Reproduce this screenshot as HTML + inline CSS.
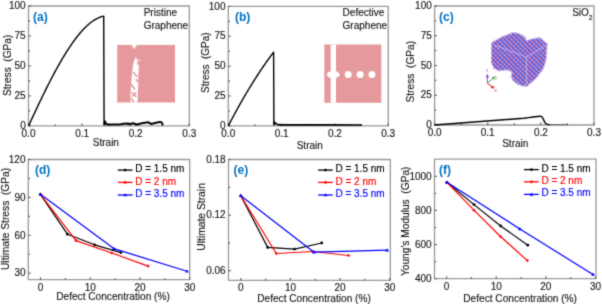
<!DOCTYPE html>
<html><head><meta charset="utf-8"><title>Figure</title>
<style>html,body{margin:0;padding:0;background:#fff;width:602px;height:304px;overflow:hidden}</style>
</head><body>
<svg width="602" height="304" viewBox="0 0 602 304" style="font-family:'Liberation Sans',sans-serif;display:block;" font-size="10" fill="#1a1a1a">
<filter id="soft3" x="0" y="0" width="602" height="304" filterUnits="userSpaceOnUse" color-interpolation-filters="sRGB"><feConvolveMatrix order="3" kernelMatrix="0.0225 0.1050 0.0225 0.1050 0.4900 0.1050 0.0225 0.1050 0.0225" divisor="1" edgeMode="duplicate"/></filter>
<g filter="url(#soft3)">
<rect width="602" height="304" fill="#fff"/>
<path d="M28.5,6H189.3V125.9H28.5Z" fill="none" stroke="#999999" stroke-width="1.3"/>
<line x1="28.5" y1="125.9" x2="30.9" y2="125.9" stroke="#5a5a5a" stroke-width="1.1"/>
<line x1="28.5" y1="95.93" x2="30.9" y2="95.93" stroke="#5a5a5a" stroke-width="1.1"/>
<line x1="28.5" y1="65.95" x2="30.9" y2="65.95" stroke="#5a5a5a" stroke-width="1.1"/>
<line x1="28.5" y1="35.97" x2="30.9" y2="35.97" stroke="#5a5a5a" stroke-width="1.1"/>
<line x1="28.5" y1="6" x2="30.9" y2="6" stroke="#5a5a5a" stroke-width="1.1"/>
<line x1="28.5" y1="110.91" x2="30.2" y2="110.91" stroke="#5a5a5a" stroke-width="1.1"/>
<line x1="28.5" y1="80.94" x2="30.2" y2="80.94" stroke="#5a5a5a" stroke-width="1.1"/>
<line x1="28.5" y1="50.96" x2="30.2" y2="50.96" stroke="#5a5a5a" stroke-width="1.1"/>
<line x1="28.5" y1="20.99" x2="30.2" y2="20.99" stroke="#5a5a5a" stroke-width="1.1"/>
<text stroke="#1a1a1a" stroke-width="0.15" x="25.7" y="129.1" text-anchor="end">0</text>
<text stroke="#1a1a1a" stroke-width="0.15" x="25.7" y="99.13" text-anchor="end">25</text>
<text stroke="#1a1a1a" stroke-width="0.15" x="25.7" y="69.15" text-anchor="end">50</text>
<text stroke="#1a1a1a" stroke-width="0.15" x="25.7" y="39.17" text-anchor="end">75</text>
<text stroke="#1a1a1a" stroke-width="0.15" x="25.7" y="9.2" text-anchor="end">100</text>
<line x1="28.5" y1="125.9" x2="28.5" y2="123.5" stroke="#5a5a5a" stroke-width="1.1"/>
<line x1="82.1" y1="125.9" x2="82.1" y2="123.5" stroke="#5a5a5a" stroke-width="1.1"/>
<line x1="135.7" y1="125.9" x2="135.7" y2="123.5" stroke="#5a5a5a" stroke-width="1.1"/>
<line x1="189.3" y1="125.9" x2="189.3" y2="123.5" stroke="#5a5a5a" stroke-width="1.1"/>
<line x1="55.3" y1="125.9" x2="55.3" y2="124.2" stroke="#5a5a5a" stroke-width="1.1"/>
<line x1="108.9" y1="125.9" x2="108.9" y2="124.2" stroke="#5a5a5a" stroke-width="1.1"/>
<line x1="162.5" y1="125.9" x2="162.5" y2="124.2" stroke="#5a5a5a" stroke-width="1.1"/>
<text stroke="#1a1a1a" stroke-width="0.15" x="28.5" y="136.9" text-anchor="middle">0.0</text>
<text stroke="#1a1a1a" stroke-width="0.15" x="82.1" y="136.9" text-anchor="middle">0.1</text>
<text stroke="#1a1a1a" stroke-width="0.15" x="135.7" y="136.9" text-anchor="middle">0.2</text>
<text stroke="#1a1a1a" stroke-width="0.15" x="189.3" y="136.9" text-anchor="middle">0.3</text>
<path d="M228.3,6.4H388.2V125.9H228.3Z" fill="none" stroke="#999999" stroke-width="1.3"/>
<line x1="228.3" y1="125.9" x2="230.7" y2="125.9" stroke="#5a5a5a" stroke-width="1.1"/>
<line x1="228.3" y1="96.03" x2="230.7" y2="96.03" stroke="#5a5a5a" stroke-width="1.1"/>
<line x1="228.3" y1="66.15" x2="230.7" y2="66.15" stroke="#5a5a5a" stroke-width="1.1"/>
<line x1="228.3" y1="36.28" x2="230.7" y2="36.28" stroke="#5a5a5a" stroke-width="1.1"/>
<line x1="228.3" y1="6.4" x2="230.7" y2="6.4" stroke="#5a5a5a" stroke-width="1.1"/>
<line x1="228.3" y1="110.96" x2="230" y2="110.96" stroke="#5a5a5a" stroke-width="1.1"/>
<line x1="228.3" y1="81.09" x2="230" y2="81.09" stroke="#5a5a5a" stroke-width="1.1"/>
<line x1="228.3" y1="51.21" x2="230" y2="51.21" stroke="#5a5a5a" stroke-width="1.1"/>
<line x1="228.3" y1="21.34" x2="230" y2="21.34" stroke="#5a5a5a" stroke-width="1.1"/>
<text stroke="#1a1a1a" stroke-width="0.15" x="225.5" y="129.1" text-anchor="end">0</text>
<text stroke="#1a1a1a" stroke-width="0.15" x="225.5" y="99.23" text-anchor="end">25</text>
<text stroke="#1a1a1a" stroke-width="0.15" x="225.5" y="69.35" text-anchor="end">50</text>
<text stroke="#1a1a1a" stroke-width="0.15" x="225.5" y="39.48" text-anchor="end">75</text>
<text stroke="#1a1a1a" stroke-width="0.15" x="225.5" y="9.6" text-anchor="end">100</text>
<line x1="228.3" y1="125.9" x2="228.3" y2="123.5" stroke="#5a5a5a" stroke-width="1.1"/>
<line x1="281.6" y1="125.9" x2="281.6" y2="123.5" stroke="#5a5a5a" stroke-width="1.1"/>
<line x1="334.9" y1="125.9" x2="334.9" y2="123.5" stroke="#5a5a5a" stroke-width="1.1"/>
<line x1="388.2" y1="125.9" x2="388.2" y2="123.5" stroke="#5a5a5a" stroke-width="1.1"/>
<line x1="254.95" y1="125.9" x2="254.95" y2="124.2" stroke="#5a5a5a" stroke-width="1.1"/>
<line x1="308.25" y1="125.9" x2="308.25" y2="124.2" stroke="#5a5a5a" stroke-width="1.1"/>
<line x1="361.55" y1="125.9" x2="361.55" y2="124.2" stroke="#5a5a5a" stroke-width="1.1"/>
<text stroke="#1a1a1a" stroke-width="0.15" x="228.3" y="136.9" text-anchor="middle">0.0</text>
<text stroke="#1a1a1a" stroke-width="0.15" x="281.6" y="136.9" text-anchor="middle">0.1</text>
<text stroke="#1a1a1a" stroke-width="0.15" x="334.9" y="136.9" text-anchor="middle">0.2</text>
<text stroke="#1a1a1a" stroke-width="0.15" x="388.2" y="136.9" text-anchor="middle">0.3</text>
<path d="M434.6,6H594V125H434.6Z" fill="none" stroke="#999999" stroke-width="1.3"/>
<line x1="434.6" y1="125" x2="437" y2="125" stroke="#5a5a5a" stroke-width="1.1"/>
<line x1="434.6" y1="95.25" x2="437" y2="95.25" stroke="#5a5a5a" stroke-width="1.1"/>
<line x1="434.6" y1="65.5" x2="437" y2="65.5" stroke="#5a5a5a" stroke-width="1.1"/>
<line x1="434.6" y1="35.75" x2="437" y2="35.75" stroke="#5a5a5a" stroke-width="1.1"/>
<line x1="434.6" y1="6" x2="437" y2="6" stroke="#5a5a5a" stroke-width="1.1"/>
<line x1="434.6" y1="110.12" x2="436.3" y2="110.12" stroke="#5a5a5a" stroke-width="1.1"/>
<line x1="434.6" y1="80.38" x2="436.3" y2="80.38" stroke="#5a5a5a" stroke-width="1.1"/>
<line x1="434.6" y1="50.62" x2="436.3" y2="50.62" stroke="#5a5a5a" stroke-width="1.1"/>
<line x1="434.6" y1="20.88" x2="436.3" y2="20.88" stroke="#5a5a5a" stroke-width="1.1"/>
<text stroke="#1a1a1a" stroke-width="0.15" x="431.8" y="128.2" text-anchor="end">0</text>
<text stroke="#1a1a1a" stroke-width="0.15" x="431.8" y="98.45" text-anchor="end">25</text>
<text stroke="#1a1a1a" stroke-width="0.15" x="431.8" y="68.7" text-anchor="end">50</text>
<text stroke="#1a1a1a" stroke-width="0.15" x="431.8" y="38.95" text-anchor="end">75</text>
<text stroke="#1a1a1a" stroke-width="0.15" x="431.8" y="9.2" text-anchor="end">100</text>
<line x1="434.6" y1="125" x2="434.6" y2="122.6" stroke="#5a5a5a" stroke-width="1.1"/>
<line x1="487.73" y1="125" x2="487.73" y2="122.6" stroke="#5a5a5a" stroke-width="1.1"/>
<line x1="540.87" y1="125" x2="540.87" y2="122.6" stroke="#5a5a5a" stroke-width="1.1"/>
<line x1="594" y1="125" x2="594" y2="122.6" stroke="#5a5a5a" stroke-width="1.1"/>
<line x1="461.17" y1="125" x2="461.17" y2="123.3" stroke="#5a5a5a" stroke-width="1.1"/>
<line x1="514.3" y1="125" x2="514.3" y2="123.3" stroke="#5a5a5a" stroke-width="1.1"/>
<line x1="567.43" y1="125" x2="567.43" y2="123.3" stroke="#5a5a5a" stroke-width="1.1"/>
<text stroke="#1a1a1a" stroke-width="0.15" x="434.6" y="136" text-anchor="middle">0.0</text>
<text stroke="#1a1a1a" stroke-width="0.15" x="487.73" y="136" text-anchor="middle">0.1</text>
<text stroke="#1a1a1a" stroke-width="0.15" x="540.87" y="136" text-anchor="middle">0.2</text>
<text stroke="#1a1a1a" stroke-width="0.15" x="594" y="136" text-anchor="middle">0.3</text>
<text stroke="#1a1a1a" stroke-width="0.15" transform="translate(10.8,65.3) rotate(-90)" text-anchor="middle" font-size="10.15" xml:space="preserve">Stress  (GPa)</text>
<text stroke="#1a1a1a" stroke-width="0.15" transform="translate(208.8,62.6) rotate(-90)" text-anchor="middle" font-size="10" xml:space="preserve">Stress  (GPa)</text>
<text stroke="#1a1a1a" stroke-width="0.15" transform="translate(414.3,71.7) rotate(-90)" text-anchor="middle" font-size="10.2" xml:space="preserve">Stress  (GPa)</text>
<text stroke="#1a1a1a" stroke-width="0.15" x="92.8" y="145.9" font-size="10">Strain</text>
<text stroke="#1a1a1a" stroke-width="0.15" x="296.7" y="148.6" font-size="10">Strain</text>
<text stroke="#1a1a1a" stroke-width="0.15" x="502.2" y="147.2" font-size="10">Strain</text>
<text x="33.1" y="21" font-weight="bold" font-size="12" fill="#0070c0">(a)</text>
<text x="235" y="21" font-weight="bold" font-size="12" fill="#0070c0">(b)</text>
<text x="439" y="21" font-weight="bold" font-size="12" fill="#0070c0">(c)</text>
<text stroke="#1a1a1a" stroke-width="0.15" x="143.7" y="16.2">Pristine</text>
<text stroke="#1a1a1a" stroke-width="0.15" x="143.7" y="29.4">Graphene</text>
<text stroke="#1a1a1a" stroke-width="0.15" x="342.6" y="16.2">Defective</text>
<text stroke="#1a1a1a" stroke-width="0.15" x="342.6" y="28.6">Graphene</text>
<text stroke="#1a1a1a" stroke-width="0.15" x="572.2" y="16">SiO<tspan font-size="6.8" dy="3.6">2</tspan></text>
<rect x="117.2" y="44.9" width="57.8" height="57.6" fill="#e6999d"/>
<polygon points="131.2,44.9 137,44.9 135.4,47 134.4,49.6 133.2,47.2" fill="#fff"/>
<polygon points="135.8,57 137.2,59.5 138.4,63 138.9,67 138.6,72 138.2,77 138.4,82 138.1,87 137.9,92 137.8,97 137.4,102.5 130.6,102.5 130.4,97 130.7,92 130.8,87 131.2,82 131.7,77 132.3,72 132.8,67 133.8,62 134.8,59" fill="#fff"/>
<g stroke="#e6999d" stroke-width="1.5" stroke-linecap="round" fill="none">
<polyline points="133.6,72.5 136.8,76.5"/>
<polyline points="136.2,79.5 138.2,82"/>
<polyline points="131.4,84.5 134.6,89"/>
<polyline points="132,92.5 136,96.5"/>
<polyline points="136,92.5 132.4,96.2"/>
<polyline points="131,98.6 133.6,101.6"/>
<polyline points="137.6,64 138.6,61.5"/>
</g>
<circle cx="139.6" cy="60.2" r="0.8" fill="#fff"/>
<rect x="324.3" y="44.5" width="57" height="58.3" fill="#e6999d"/>
<rect x="330.7" y="44.5" width="5.3" height="58.3" fill="#fff"/>
<ellipse cx="333.3" cy="74.6" rx="6.4" ry="3.7" fill="#fff"/>
<circle cx="348.2" cy="74.6" r="3.5" fill="#fff"/>
<circle cx="360.1" cy="74.6" r="3.5" fill="#fff"/>
<circle cx="371.9" cy="74.6" r="3.5" fill="#fff"/>
<polyline points="28.5,125.9 29.5,123.9 30.5,121.73 31.5,119.56 32.5,117.4 33.5,115.25 34.5,113.11 35.5,110.97 36.5,108.84 37.5,106.72 38.5,104.61 39.5,102.52 40.5,100.43 41.5,98.35 42.5,96.29 43.5,94.24 44.5,92.2 45.5,90.18 46.5,88.17 47.5,86.18 48.5,84.2 49.5,82.24 50.5,80.29 51.5,78.36 52.5,76.45 53.5,74.56 54.5,72.69 55.5,70.84 56.5,69.01 57.5,67.19 58.5,65.4 59.5,63.63 60.5,61.89 61.5,60.16 62.5,58.47 63.5,56.79 64.5,55.14 65.5,53.51 66.5,51.91 67.5,50.34 68.5,48.8 69.5,47.28 70.5,45.79 71.5,44.33 72.5,42.89 73.5,41.49 74.5,40.12 75.5,38.78 76.5,37.47 77.5,36.19 78.5,34.95 79.5,33.74 80.5,32.56 81.5,31.42 82.5,30.31 83.5,29.23 84.5,28.2 85.5,27.2 86.5,26.24 87.5,25.31 88.5,24.43 89.5,23.58 90.5,22.77 91.5,22 92.5,21.28 93.5,20.59 94.5,19.95 95.5,19.35 96.5,18.79 97.5,18.27 98.5,17.8 99.5,17.38 100.5,17 101.5,16.66 102.5,16.37 103.5,16.13 103.7,16.09 104.1,124.5" fill="none" stroke="#000" stroke-width="1.4" stroke-linejoin="round"/>
<polyline points="104.3,125.4 104.9,121.2 105.6,123.2 107.3,124.5 112,124.6 118,124.5 121,124.3 123.3,123.8 128.6,123.6 129.7,124.6 131,123.8 132.9,123.3 137,124.5 142,123.3 148,122.2 151,123.9 156,122.8 160,121.9 161.6,122.4 162.3,123.8 162.6,125.3" fill="none" stroke="#000" stroke-width="2.0" stroke-linejoin="round"/>
<polyline points="228.3,125.9 229.3,123.89 230.3,121.98 231.3,120.09 232.3,118.21 233.3,116.34 234.3,114.48 235.3,112.64 236.3,110.81 237.3,108.99 238.3,107.19 239.3,105.4 240.3,103.63 241.3,101.86 242.3,100.12 243.3,98.38 244.3,96.66 245.3,94.95 246.3,93.26 247.3,91.58 248.3,89.91 249.3,88.25 250.3,86.61 251.3,84.98 252.3,83.37 253.3,81.77 254.3,80.18 255.3,78.61 256.3,77.05 257.3,75.5 258.3,73.96 259.3,72.44 260.3,70.94 261.3,69.44 262.3,67.96 263.3,66.5 264.3,65.04 265.3,63.6 266.3,62.18 267.3,60.76 268.3,59.36 269.3,57.98 270.3,56.6 271.3,55.24 272.3,53.9 273.3,52.57 273.6,52.17 273.9,124.5" fill="none" stroke="#000" stroke-width="1.4" stroke-linejoin="round"/>
<polyline points="274,125.3 274.4,122.2 275.5,123.2 277,124.4 280,124.8 300,124.9 330,124.9 362,125" fill="none" stroke="#000" stroke-width="1.7" stroke-linejoin="round"/>
<polyline points="434.6,125 523.7,118.25 528.6,117.6 533,117 537.3,116.5 540.3,116.2 541.6,116.6 542.6,117.8 543.7,120.1 545,122.7 546.2,123.8 547.5,124.4 550.2,124.6" fill="none" stroke="#000" stroke-width="1.4" stroke-linejoin="round"/>
<line x1="550" y1="124.6" x2="567.5" y2="124.6" stroke="#666" stroke-width="1"/>
<defs><pattern id="sio" width="3.2" height="3.2" patternUnits="userSpaceOnUse" patternTransform="rotate(45)"><rect width="3.2" height="3.2" fill="#aca4ec"/><rect x="0" y="0" width="3.2" height="1.3" fill="#5050e0"/><rect x="0.1" y="1.5" width="1.5" height="1.5" fill="#d6567c"/></pattern><filter id="soft" x="-10%" y="-10%" width="120%" height="120%"><feGaussianBlur stdDeviation="0.35"/></filter></defs>
<polygon points="492,43 502,37.5 513.4,33 520,34.5 524,37 526.6,41.5 531.8,39.5 539.7,38.3 546.5,44 545.5,59.5 542.8,68.5 535,78.5 526.4,86 520,84.8 514.2,81 511.8,76.6 512.8,71.5 507,69.2 499,70.3 494.2,67.8 492,62" fill="url(#sio)" stroke="url(#sio)" stroke-width="2.2" stroke-dasharray="1.2 1" filter="url(#soft)"/>
<polyline points="493.7,45 526.6,57 546,45.5" fill="none" stroke="#d4cef2" stroke-width="0.9" opacity="0.75"/>
<line x1="526.6" y1="57" x2="526.6" y2="85" stroke="#d4cef2" stroke-width="0.9" opacity="0.7"/>
<g stroke-width="1" fill="none">
<line x1="487.4" y1="83.2" x2="487.4" y2="75.5" stroke="#8a50c8"/>
<line x1="487.4" y1="83.2" x2="493.5" y2="78" stroke="#50a850"/>
<line x1="487.4" y1="83.2" x2="492.2" y2="86.8" stroke="#e82020"/>
</g>
<polygon points="485.8,77.5 489,77.5 487.4,73.6" fill="#8a50c8"/>
<polygon points="491.5,77.4 494.2,79.8 495.2,76.3" fill="#50a850"/>
<polygon points="490.4,88 493,85.6 494.6,88.6" fill="#e82020"/>
<text x="486" y="71.5" font-size="4.5" fill="#9a70d0">z</text>
<text x="495" y="79" font-size="4.5" fill="#60b060">y</text>
<text x="494.5" y="92.2" font-size="4.5" fill="#e83030">x</text>
<path d="M28.3,159.5H189.7V279.7H28.3Z" fill="none" stroke="#999999" stroke-width="1.3"/>
<line x1="40.5" y1="279.7" x2="40.5" y2="277.3" stroke="#5a5a5a" stroke-width="1.1"/>
<line x1="90.23" y1="279.7" x2="90.23" y2="277.3" stroke="#5a5a5a" stroke-width="1.1"/>
<line x1="139.97" y1="279.7" x2="139.97" y2="277.3" stroke="#5a5a5a" stroke-width="1.1"/>
<line x1="189.7" y1="279.7" x2="189.7" y2="277.3" stroke="#5a5a5a" stroke-width="1.1"/>
<line x1="65.37" y1="279.7" x2="65.37" y2="278" stroke="#5a5a5a" stroke-width="1.1"/>
<line x1="115.1" y1="279.7" x2="115.1" y2="278" stroke="#5a5a5a" stroke-width="1.1"/>
<line x1="164.83" y1="279.7" x2="164.83" y2="278" stroke="#5a5a5a" stroke-width="1.1"/>
<text stroke="#1a1a1a" stroke-width="0.15" x="40.5" y="290.6" text-anchor="middle">0</text>
<text stroke="#1a1a1a" stroke-width="0.15" x="90.23" y="290.6" text-anchor="middle">10</text>
<text stroke="#1a1a1a" stroke-width="0.15" x="139.97" y="290.6" text-anchor="middle">20</text>
<text stroke="#1a1a1a" stroke-width="0.15" x="189.7" y="290.6" text-anchor="middle">30</text>
<path d="M228.5,159.5H390.3V280.4H228.5Z" fill="none" stroke="#999999" stroke-width="1.3"/>
<line x1="240.8" y1="280.4" x2="240.8" y2="278" stroke="#5a5a5a" stroke-width="1.1"/>
<line x1="290.47" y1="280.4" x2="290.47" y2="278" stroke="#5a5a5a" stroke-width="1.1"/>
<line x1="340.13" y1="280.4" x2="340.13" y2="278" stroke="#5a5a5a" stroke-width="1.1"/>
<line x1="389.8" y1="280.4" x2="389.8" y2="278" stroke="#5a5a5a" stroke-width="1.1"/>
<line x1="265.63" y1="280.4" x2="265.63" y2="278.7" stroke="#5a5a5a" stroke-width="1.1"/>
<line x1="315.3" y1="280.4" x2="315.3" y2="278.7" stroke="#5a5a5a" stroke-width="1.1"/>
<line x1="364.97" y1="280.4" x2="364.97" y2="278.7" stroke="#5a5a5a" stroke-width="1.1"/>
<text stroke="#1a1a1a" stroke-width="0.15" x="240.8" y="291.3" text-anchor="middle">0</text>
<text stroke="#1a1a1a" stroke-width="0.15" x="290.47" y="291.3" text-anchor="middle">10</text>
<text stroke="#1a1a1a" stroke-width="0.15" x="340.13" y="291.3" text-anchor="middle">20</text>
<text stroke="#1a1a1a" stroke-width="0.15" x="389.8" y="291.3" text-anchor="middle">30</text>
<path d="M434.5,159.1H596V278.7H434.5Z" fill="none" stroke="#999999" stroke-width="1.3"/>
<line x1="446.6" y1="278.7" x2="446.6" y2="276.3" stroke="#5a5a5a" stroke-width="1.1"/>
<line x1="496.23" y1="278.7" x2="496.23" y2="276.3" stroke="#5a5a5a" stroke-width="1.1"/>
<line x1="545.87" y1="278.7" x2="545.87" y2="276.3" stroke="#5a5a5a" stroke-width="1.1"/>
<line x1="595.5" y1="278.7" x2="595.5" y2="276.3" stroke="#5a5a5a" stroke-width="1.1"/>
<line x1="471.42" y1="278.7" x2="471.42" y2="277" stroke="#5a5a5a" stroke-width="1.1"/>
<line x1="521.05" y1="278.7" x2="521.05" y2="277" stroke="#5a5a5a" stroke-width="1.1"/>
<line x1="570.68" y1="278.7" x2="570.68" y2="277" stroke="#5a5a5a" stroke-width="1.1"/>
<text stroke="#1a1a1a" stroke-width="0.15" x="446.6" y="289.6" text-anchor="middle">0</text>
<text stroke="#1a1a1a" stroke-width="0.15" x="496.23" y="289.6" text-anchor="middle">10</text>
<text stroke="#1a1a1a" stroke-width="0.15" x="545.87" y="289.6" text-anchor="middle">20</text>
<text stroke="#1a1a1a" stroke-width="0.15" x="595.5" y="289.6" text-anchor="middle">30</text>
<line x1="28.3" y1="273.2" x2="30.7" y2="273.2" stroke="#5a5a5a" stroke-width="1.1"/>
<line x1="28.3" y1="235.3" x2="30.7" y2="235.3" stroke="#5a5a5a" stroke-width="1.1"/>
<line x1="28.3" y1="197.4" x2="30.7" y2="197.4" stroke="#5a5a5a" stroke-width="1.1"/>
<line x1="28.3" y1="159.5" x2="30.7" y2="159.5" stroke="#5a5a5a" stroke-width="1.1"/>
<line x1="28.3" y1="254.25" x2="30" y2="254.25" stroke="#5a5a5a" stroke-width="1.1"/>
<line x1="28.3" y1="216.35" x2="30" y2="216.35" stroke="#5a5a5a" stroke-width="1.1"/>
<line x1="28.3" y1="178.45" x2="30" y2="178.45" stroke="#5a5a5a" stroke-width="1.1"/>
<text stroke="#1a1a1a" stroke-width="0.15" x="25.5" y="276.4" text-anchor="end">30</text>
<text stroke="#1a1a1a" stroke-width="0.15" x="25.5" y="238.5" text-anchor="end">60</text>
<text stroke="#1a1a1a" stroke-width="0.15" x="25.5" y="200.6" text-anchor="end">90</text>
<text stroke="#1a1a1a" stroke-width="0.15" x="25.5" y="162.7" text-anchor="end">120</text>
<line x1="228.5" y1="270.7" x2="230.9" y2="270.7" stroke="#5a5a5a" stroke-width="1.1"/>
<line x1="228.5" y1="215.1" x2="230.9" y2="215.1" stroke="#5a5a5a" stroke-width="1.1"/>
<line x1="228.5" y1="159.5" x2="230.9" y2="159.5" stroke="#5a5a5a" stroke-width="1.1"/>
<line x1="228.5" y1="242.9" x2="230.2" y2="242.9" stroke="#5a5a5a" stroke-width="1.1"/>
<line x1="228.5" y1="187.3" x2="230.2" y2="187.3" stroke="#5a5a5a" stroke-width="1.1"/>
<text stroke="#1a1a1a" stroke-width="0.15" x="225.7" y="273.9" text-anchor="end">0.06</text>
<text stroke="#1a1a1a" stroke-width="0.15" x="225.7" y="218.3" text-anchor="end">0.12</text>
<text stroke="#1a1a1a" stroke-width="0.15" x="225.7" y="162.7" text-anchor="end">0.18</text>
<line x1="434.5" y1="278.7" x2="436.9" y2="278.7" stroke="#5a5a5a" stroke-width="1.1"/>
<line x1="434.5" y1="244.57" x2="436.9" y2="244.57" stroke="#5a5a5a" stroke-width="1.1"/>
<line x1="434.5" y1="210.43" x2="436.9" y2="210.43" stroke="#5a5a5a" stroke-width="1.1"/>
<line x1="434.5" y1="176.3" x2="436.9" y2="176.3" stroke="#5a5a5a" stroke-width="1.1"/>
<line x1="434.5" y1="261.63" x2="436.2" y2="261.63" stroke="#5a5a5a" stroke-width="1.1"/>
<line x1="434.5" y1="227.5" x2="436.2" y2="227.5" stroke="#5a5a5a" stroke-width="1.1"/>
<line x1="434.5" y1="193.37" x2="436.2" y2="193.37" stroke="#5a5a5a" stroke-width="1.1"/>
<text stroke="#1a1a1a" stroke-width="0.15" x="431.7" y="281.9" text-anchor="end">400</text>
<text stroke="#1a1a1a" stroke-width="0.15" x="431.7" y="247.77" text-anchor="end">600</text>
<text stroke="#1a1a1a" stroke-width="0.15" x="431.7" y="213.63" text-anchor="end">800</text>
<text stroke="#1a1a1a" stroke-width="0.15" x="431.7" y="179.5" text-anchor="end">1000</text>
<text stroke="#1a1a1a" stroke-width="0.15" transform="translate(9.3,218.9) rotate(-90)" text-anchor="middle" font-size="10.23" xml:space="preserve">Ultimate Stress  (GPa)</text>
<text stroke="#1a1a1a" stroke-width="0.15" transform="translate(204.9,216.9) rotate(-90)" text-anchor="middle" font-size="10.3" xml:space="preserve">Ultimate Strain</text>
<text stroke="#1a1a1a" stroke-width="0.15" transform="translate(409,221.3) rotate(-90)" text-anchor="middle" font-size="10.19" xml:space="preserve">Young's Modulus  (GPa)</text>
<text stroke="#1a1a1a" stroke-width="0.15" x="56.2" y="300" font-size="10.15">Defect Concentration (%)</text>
<text stroke="#1a1a1a" stroke-width="0.15" x="257.2" y="302.2" font-size="10.15">Defect Concentration (%)</text>
<text stroke="#1a1a1a" stroke-width="0.15" x="463.3" y="302.2" font-size="10.15">Defect Concentration (%)</text>
<text x="35" y="174.1" font-weight="bold" font-size="12" fill="#0070c0">(d)</text>
<text x="233.6" y="174.2" font-weight="bold" font-size="12" fill="#0070c0">(e)</text>
<text x="439" y="174.2" font-weight="bold" font-size="12" fill="#0070c0">(f)</text>
<polyline points="40.4,194.3 67.4,234.2 94.6,244.8 120.9,252.6" fill="none" stroke="#000" stroke-width="1.2" stroke-linejoin="round"/>
<circle cx="40.4" cy="194.3" r="1.4" fill="#000"/>
<circle cx="67.4" cy="234.2" r="1.4" fill="#000"/>
<circle cx="94.6" cy="244.8" r="1.4" fill="#000"/>
<circle cx="120.9" cy="252.6" r="1.4" fill="#000"/>
<polyline points="40.4,194.3 76,240.6 111.8,253 148.1,266.1" fill="none" stroke="#ff0000" stroke-width="1.2" stroke-linejoin="round"/>
<circle cx="40.4" cy="194.3" r="1.3" fill="#ff0000"/>
<circle cx="76" cy="240.6" r="1.3" fill="#ff0000"/>
<circle cx="111.8" cy="253" r="1.3" fill="#ff0000"/>
<circle cx="148.1" cy="266.1" r="1.3" fill="#ff0000"/>
<polyline points="40.4,194.3 113.8,248.6 187,271.3" fill="none" stroke="#0000ff" stroke-width="1.2" stroke-linejoin="round"/>
<polygon points="40.4,192.41 42.29,195.62 38.51,195.62" fill="#0000ff"/>
<polygon points="113.8,246.71 115.69,249.92 111.91,249.92" fill="#0000ff"/>
<polygon points="187,269.41 188.89,272.62 185.11,272.62" fill="#0000ff"/>
<polyline points="240.8,195.8 267.7,247.4 294.5,249.1 321.7,243" fill="none" stroke="#000" stroke-width="1.2" stroke-linejoin="round"/>
<circle cx="240.8" cy="195.8" r="1.4" fill="#000"/>
<circle cx="267.7" cy="247.4" r="1.4" fill="#000"/>
<circle cx="294.5" cy="249.1" r="1.4" fill="#000"/>
<circle cx="321.7" cy="243" r="1.4" fill="#000"/>
<polyline points="240.8,195.8 276.3,253.5 313,251.5 348.5,255.5" fill="none" stroke="#ff0000" stroke-width="1.2" stroke-linejoin="round"/>
<circle cx="240.8" cy="195.8" r="1.3" fill="#ff0000"/>
<circle cx="276.3" cy="253.5" r="1.3" fill="#ff0000"/>
<circle cx="313" cy="251.5" r="1.3" fill="#ff0000"/>
<circle cx="348.5" cy="255.5" r="1.3" fill="#ff0000"/>
<polyline points="240.8,195.8 314,252.2 387.2,250.2" fill="none" stroke="#0000ff" stroke-width="1.2" stroke-linejoin="round"/>
<polygon points="240.8,193.91 242.69,197.12 238.91,197.12" fill="#0000ff"/>
<polygon points="314,250.31 315.89,253.52 312.11,253.52" fill="#0000ff"/>
<polygon points="387.2,248.31 389.09,251.52 385.31,251.52" fill="#0000ff"/>
<polyline points="446.9,182.3 474,204.6 500.7,226 527.8,245.2" fill="none" stroke="#000" stroke-width="1.2" stroke-linejoin="round"/>
<circle cx="446.9" cy="182.3" r="1.4" fill="#000"/>
<circle cx="474" cy="204.6" r="1.4" fill="#000"/>
<circle cx="500.7" cy="226" r="1.4" fill="#000"/>
<circle cx="527.8" cy="245.2" r="1.4" fill="#000"/>
<polyline points="446.9,182.3 474,210.2 500.7,236.7 527.4,260.6" fill="none" stroke="#ff0000" stroke-width="1.2" stroke-linejoin="round"/>
<circle cx="446.9" cy="182.3" r="1.3" fill="#ff0000"/>
<circle cx="474" cy="210.2" r="1.3" fill="#ff0000"/>
<circle cx="500.7" cy="236.7" r="1.3" fill="#ff0000"/>
<circle cx="527.4" cy="260.6" r="1.3" fill="#ff0000"/>
<polyline points="446.9,182.3 519.9,229 593,274.5" fill="none" stroke="#0000ff" stroke-width="1.2" stroke-linejoin="round"/>
<polygon points="446.9,180.41 448.79,183.62 445.01,183.62" fill="#0000ff"/>
<polygon points="519.9,227.11 521.79,230.32 518.01,230.32" fill="#0000ff"/>
<polygon points="593,272.61 594.89,275.82 591.11,275.82" fill="#0000ff"/>
<line x1="117.8" y1="170.1" x2="132.5" y2="170.1" stroke="#000" stroke-width="1.3"/>
<circle cx="125.2" cy="170.1" r="1.4" fill="#000"/>
<text stroke="#000" stroke-width="0.15" x="135.2" y="172.2" fill="#000">D = 1.5 nm</text>
<line x1="117.8" y1="182.4" x2="132.5" y2="182.4" stroke="#ff0000" stroke-width="1.3"/>
<circle cx="125.2" cy="182.4" r="1.4" fill="#ff0000"/>
<text stroke="#ff0000" stroke-width="0.15" x="135.2" y="184.6" fill="#ff0000">D = 2 nm</text>
<line x1="117.8" y1="195" x2="132.5" y2="195" stroke="#0000ff" stroke-width="1.3"/>
<polygon points="125.2,193.18 127.02,196.27 123.38,196.27" fill="#0000ff"/>
<text stroke="#0000ff" stroke-width="0.15" x="135.2" y="196.8" fill="#0000ff">D = 3.5 nm</text>
<line x1="318.1" y1="170.1" x2="332.8" y2="170.1" stroke="#000" stroke-width="1.3"/>
<circle cx="325.5" cy="170.1" r="1.4" fill="#000"/>
<text stroke="#000" stroke-width="0.15" x="335.5" y="172.2" fill="#000">D = 1.5 nm</text>
<line x1="318.1" y1="182.4" x2="332.8" y2="182.4" stroke="#ff0000" stroke-width="1.3"/>
<circle cx="325.5" cy="182.4" r="1.4" fill="#ff0000"/>
<text stroke="#ff0000" stroke-width="0.15" x="335.5" y="184.6" fill="#ff0000">D = 2 nm</text>
<line x1="318.1" y1="195" x2="332.8" y2="195" stroke="#0000ff" stroke-width="1.3"/>
<polygon points="325.5,193.18 327.32,196.27 323.68,196.27" fill="#0000ff"/>
<text stroke="#0000ff" stroke-width="0.15" x="335.5" y="196.8" fill="#0000ff">D = 3.5 nm</text>
<line x1="524" y1="169.6" x2="538.7" y2="169.6" stroke="#000" stroke-width="1.3"/>
<circle cx="531.4" cy="169.6" r="1.4" fill="#000"/>
<text stroke="#000" stroke-width="0.15" x="541.4" y="171.8" fill="#000">D = 1.5 nm</text>
<line x1="524" y1="181.8" x2="538.7" y2="181.8" stroke="#ff0000" stroke-width="1.3"/>
<circle cx="531.4" cy="181.8" r="1.4" fill="#ff0000"/>
<text stroke="#ff0000" stroke-width="0.15" x="541.4" y="184" fill="#ff0000">D = 2 nm</text>
<line x1="524" y1="194.4" x2="538.7" y2="194.4" stroke="#0000ff" stroke-width="1.3"/>
<polygon points="531.4,192.58 533.22,195.67 529.58,195.67" fill="#0000ff"/>
<text stroke="#0000ff" stroke-width="0.15" x="541.4" y="196.3" fill="#0000ff">D = 3.5 nm</text>
</g>
</svg>
</body></html>
